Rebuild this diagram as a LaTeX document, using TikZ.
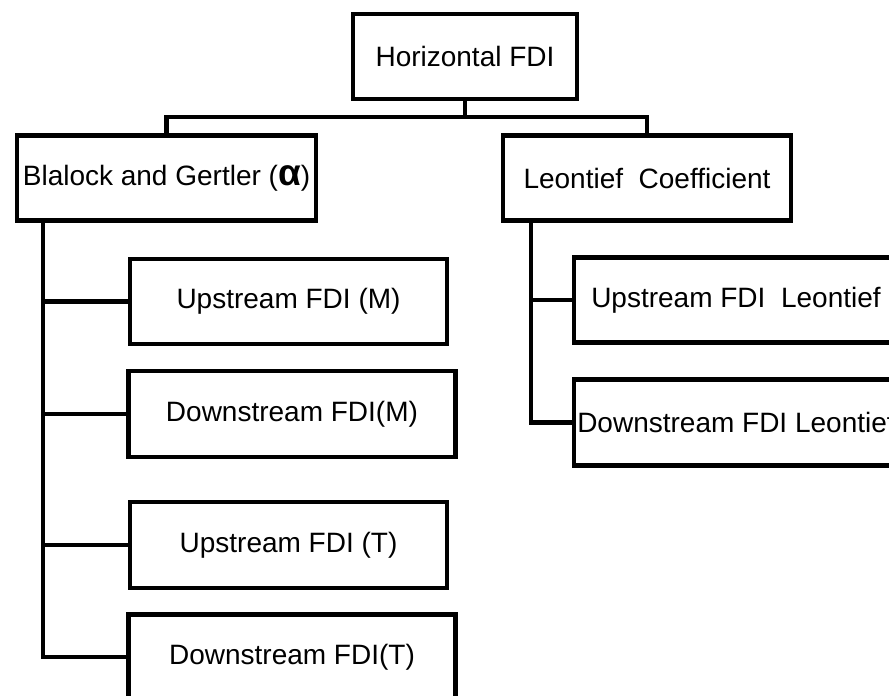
\documentclass[tikz,border=0pt]{standalone}
\usepackage{fontspec}
\setmainfont{Liberation Sans}
\usetikzlibrary{positioning}
\tikzset{
    mybox/.style = {rectangle, draw=black, line width=4.5pt, align=center, fill=white, inner sep=0pt, minimum height=85pt, font=\fontsize{28}{33}\selectfont},
}
\newcommand{\bigalpha}{{\fontsize{37}{37}\selectfont\bfseries α}}

\begin{document}
\begin{tikzpicture}[x=1pt, y=-1pt]
\tikzset{
    edgen/.style = {-, line width=4.5pt, black}
}
\useasboundingbox (0,0) rectangle (889,696);
%
\node[mybox, minimum width=224pt] at (465,56.5) (hor) {Horizontal FDI};
\node[mybox, minimum width=299pt] at (166.5,178) (bg) {Blalock and Gertler (\bigalpha)};
\node[mybox, minimum width=288pt] at (647,178) (leo) {Leontief\ \ Coefficient};
%
\node[mybox, minimum width=317pt] at (288.5,301.5) (upm) {Upstream FDI (M)};
\node[mybox, minimum width=327pt, minimum height=86pt] at (292,414) (dnm) {Downstream FDI(M)};
\node[mybox, minimum width=317pt, minimum height=86pt] at (288.5,545) (upt) {Upstream FDI (T)};
\node[mybox, minimum width=327pt] at (292,657) (dnt) {Downstream FDI(T)};
%
\node[mybox, minimum width=324pt] at (736,300) (upl) {Upstream FDI\ \ Leontief};
\node[mybox, minimum width=324pt, minimum height=86pt] at (736,422.5) (dnl) {Downstream FDI Leontief};
%
\coordinate (bus) at (465,117);
\coordinate (lt) at (43,220.5);
\coordinate (rt) at (531,220.5);
%
\draw[edgen] (hor.south) -- (bus);
\draw[edgen] (bg.north) |- (bus) -| (leo.north);
%
\draw[edgen] (lt) |- (upm.west);
\draw[edgen] (lt) |- (dnm.west);
\draw[edgen] (lt) |- (upt.west);
\draw[edgen] (lt) |- (dnt.west);
%
\draw[edgen] (rt) |- (upl.west);
\draw[edgen] (rt) |- (dnl.west);
\end{tikzpicture}
\end{document}
